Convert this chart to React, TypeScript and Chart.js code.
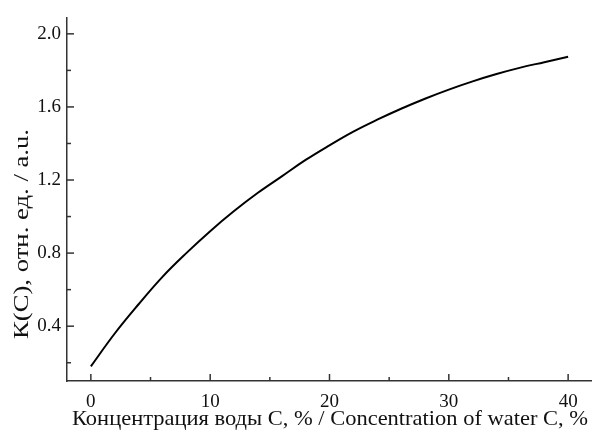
import React, { useEffect, useRef } from 'react';
import { Chart, registerables } from 'chart.js';

Chart.register(...registerables);

const concentration = [0, 2, 4, 6, 8, 10, 12, 14, 16, 18, 20, 22, 24, 26, 28, 30, 32, 34, 36, 38, 40];
const kValues = [0.18, 0.36, 0.52, 0.67, 0.80, 0.92, 1.03, 1.13, 1.22, 1.31, 1.39, 1.465, 1.53, 1.59, 1.645, 1.695, 1.74, 1.78, 1.815, 1.845, 1.875];

const xTickValues = [0, 5, 10, 15, 20, 25, 30, 35, 40];
const xLabelValues = [0, 10, 20, 30, 40];
const yTickValues = [0.2, 0.4, 0.6, 0.8, 1.0, 1.2, 1.4, 1.6, 1.8, 2.0];
const yLabelValues = [0.4, 0.8, 1.2, 1.6, 2.0];

const xTitle = 'Концентрация воды С, % / Concentration of water C, %';
const yTitle = 'К(С), отн. ед. / a.u.';

const FONT = '"Liberation Serif", "Times New Roman", serif';
const TEXT = '#111';
const AXIS = '#333';

const isLabel = (arr: number[], v: number) => arr.some((l) => Math.abs(l - v) < 1e-6);

const drawFittedText = (ctx: any, text: string, cx: number, cy: number, length: number, rotate: boolean) => {
  ctx.save();
  ctx.font = '21px ' + FONT;
  ctx.fillStyle = TEXT;
  ctx.textAlign = 'center';
  ctx.textBaseline = 'middle';
  const w = ctx.measureText(text).width;
  ctx.translate(cx, cy);
  if (rotate) ctx.rotate(-Math.PI / 2);
  ctx.scale(length / w, 1);
  ctx.fillText(text, 0, 0);
  ctx.restore();
};

const inwardTicks = {
  id: 'inwardTicks',
  afterDraw(chart: any) {
    const ctx = chart.ctx;
    const xs = chart.scales.x;
    const ys = chart.scales.y;
    const { left, bottom } = chart.chartArea;
    ctx.save();
    ctx.strokeStyle = AXIS;
    ctx.lineWidth = 1.5;
    xTickValues.forEach((v) => {
      const px = xs.getPixelForValue(v);
      const len = isLabel(xLabelValues, v) ? 7 : 4;
      ctx.beginPath();
      ctx.moveTo(px, bottom);
      ctx.lineTo(px, bottom - len);
      ctx.stroke();
    });
    yTickValues.forEach((v) => {
      const py = ys.getPixelForValue(v);
      const len = isLabel(yLabelValues, v) ? 7 : 4;
      ctx.beginPath();
      ctx.moveTo(left, py);
      ctx.lineTo(left + len, py);
      ctx.stroke();
    });
    ctx.restore();
    drawFittedText(ctx, yTitle, 22, 234, 210, true);
    drawFittedText(ctx, xTitle, 330, 419, 516, false);
  },
};

export default function App() {
  const ref = useRef<HTMLCanvasElement | null>(null);

  useEffect(() => {
    if (!ref.current) return;
    const chart = new Chart(ref.current, {
      type: 'line',
      data: {
        datasets: [
          {
            data: concentration.map((c, i) => ({ x: c, y: kValues[i] })),
            borderColor: '#000',
            borderWidth: 2,
            pointRadius: 0,
            fill: false,
            tension: 0.4,
          },
        ],
      },
      options: {
        responsive: false,
        animation: false,
        layout: { padding: { top: 10, left: 0, right: 0, bottom: 0 } },
        plugins: { legend: { display: false }, tooltip: { enabled: false } },
        scales: {
          x: {
            type: 'linear',
            min: -2,
            max: 42,
            afterFit: (s: any) => {
              s.height = 51;
            },
            afterBuildTicks: (s: any) => {
              s.ticks = xTickValues.map((v) => ({ value: v }));
            },
            grid: { display: false, drawTicks: false },
            border: { display: true, color: AXIS, width: 1.5 },
            ticks: {
              autoSkip: false,
              maxRotation: 0,
              padding: 10,
              color: TEXT,
              font: { family: FONT, size: 19 },
              callback: (v: any) => (isLabel(xLabelValues, Number(v)) ? String(v) : ''),
            },
          },
          y: {
            type: 'linear',
            min: 0.1,
            max: 2.09,
            afterFit: (s: any) => {
              s.width = 67;
            },
            afterBuildTicks: (s: any) => {
              s.ticks = yTickValues.map((v) => ({ value: v }));
            },
            grid: { display: false, drawTicks: false },
            border: { display: true, color: AXIS, width: 1.5 },
            ticks: {
              autoSkip: false,
              padding: 6,
              color: TEXT,
              font: { family: FONT, size: 19 },
              callback: (v: any) => (isLabel(yLabelValues, Number(v)) ? Number(v).toFixed(1) : ''),
            },
          },
        },
      },
      plugins: [inwardTicks],
    });
    return () => chart.destroy();
  }, []);

  return (
    <div style={{ position: 'fixed', left: 0, top: 0, width: 592, height: 432, background: '#fff' }}>
      <canvas ref={ref} width={592} height={432} style={{ display: 'block' }} />
    </div>
  );
}
